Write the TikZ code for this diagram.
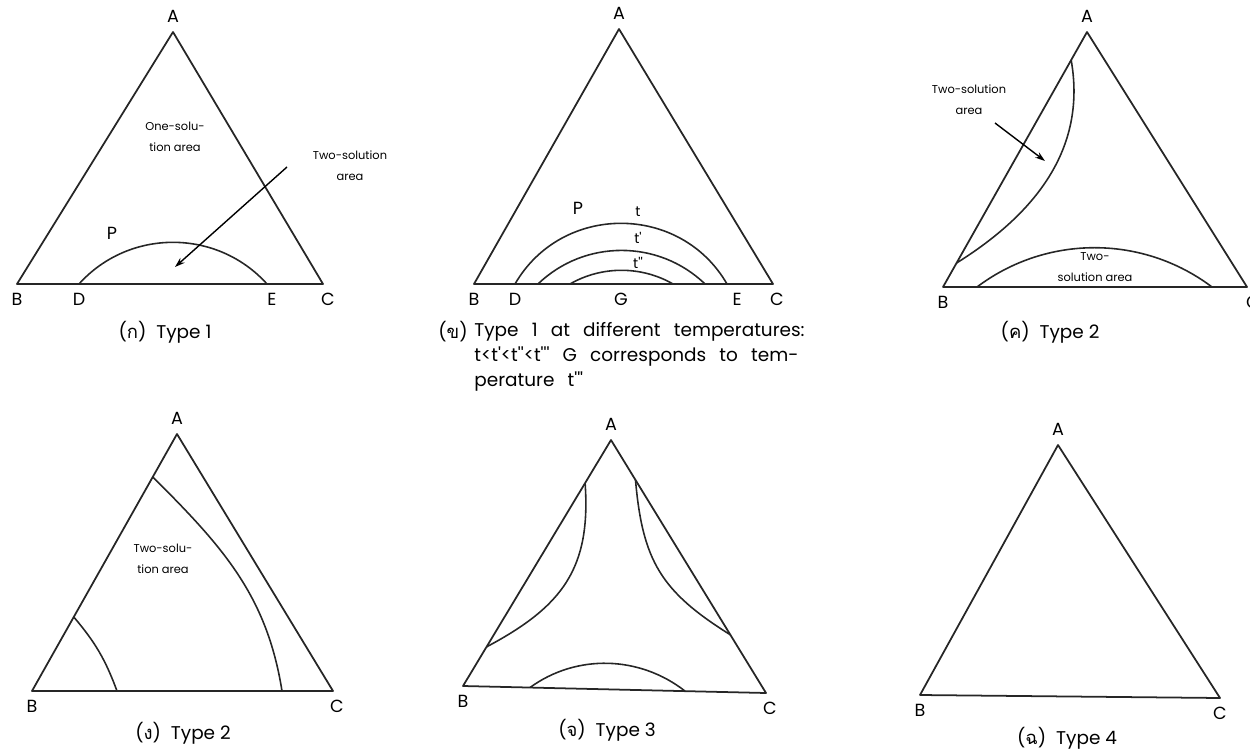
\documentclass[tikz,border=0pt]{standalone}
\usepackage{fontspec}
\setmainfont{Poppins}
\newfontfamily\thaifont[Script=Thai]{Loma}
\usepackage{tikz}
\usetikzlibrary{arrows.meta,positioning,calc}
\newcommand\capwide{\spaceskip=7.5pt plus 1pt\relax}
\newcommand\tp{\textquotesingle}
\tikzset{
  tri/.style={draw=black!85, line width=1pt, line join=round},
  phase/.style={draw=black!85, line width=0.9pt},
  vlabel/.style={inner sep=0pt, font=\fontsize{10}{12}\selectfont},
  templabel/.style={inner sep=0pt, font=\fontsize{8}{10}\selectfont},
  arealabel/.style={inner sep=0pt, align=center, font=\fontsize{6.5}{12}\selectfont},
  caption/.style={inner sep=0pt, align=left, font=\fontsize{10.5}{14.2}\selectfont},
  widecaption/.style={caption, font=\fontsize{10.5}{14.2}\selectfont\capwide},
  pointer/.style={-{Stealth[length=2mm, width=1.3mm]}, line width=0.8pt}
}

\begin{document}
\begin{tikzpicture}[x=0.02cm, y=0.02cm, node distance=5pt]
\useasboundingbox (0,0) rectangle (1250,752);

% (a) Type 1
\coordinate (aA) at (173,720);
\coordinate (aB) at (17,468);
\coordinate (aC) at (323,468);
\coordinate (aD) at (79,468);
\coordinate (aE) at (267,468);
\draw[tri] (aA) -- (aB) -- (aC) -- cycle;
\draw[phase] (aD) to[out=48, in=132, looseness=1.02] (aE);
\node[vlabel, above=of aA] (aAlbl) {A};
\node[vlabel, below=of aB] (aBlbl) {B};
\node[vlabel, below=of aD] (aDlbl) {D};
\node[vlabel, below=of aE, xshift=0.1cm] (aElbl) {E};
\node[vlabel, below=of aC, xshift=0.1cm] (aClbl) {C};
\node[vlabel] (aP) at (112,519) {P};
\node[arealabel] (aOne) at (175,615) {One-solu-\\tion area};
\node[arealabel] (aTwo) at (350,586) {Two-solution\\area};
\coordinate (aTail) at (287,585);
\coordinate (aTip) at (175,485);
\draw[pointer] (aTail) -- (aTip);
\node[caption] (aCap) at (165,420) {({\thaifont ก})\ \ Type 1};

% (b) Type 1 at different temperatures
\coordinate (bA) at (619,723);
\coordinate (bB) at (474,468);
\coordinate (bC) at (773,468);
\coordinate (bD) at (515,468);
\coordinate (bE) at (727,468);
\coordinate (bG) at (621,468);
\draw[tri] (bA) -- (bB) -- (bC) -- cycle;
\draw[phase] (bD) to[out=60, in=120, looseness=1.13] (bE);
\draw[phase] (538,468) to[out=44, in=136, looseness=0.99] (705,468);
\draw[phase] (570,468) to[out=30, in=150, looseness=0.91] (673,468);
\node[vlabel, above=of bA] (bAlbl) {A};
\node[vlabel, below=of bB] (bBlbl) {B};
\node[vlabel, below=of bD] (bDlbl) {D};
\node[vlabel, below=of bG] (bGlbl) {G};
\node[vlabel, below=of bE, xshift=0.2cm] (bElbl) {E};
\node[vlabel, below=of bC, xshift=0.08cm] (bClbl) {C};
\node[vlabel] (bP) at (578,544) {P};
\node[templabel] (bT1) at (638,540) {t};
\node[templabel] (bT2) at (638,514) {t\tp};
\node[templabel] (bT3) at (638,489) {t\tp\tp};
\node[caption, anchor=east] (bCapNo) at (468,420) {({\thaifont ข})};
\node[widecaption, anchor=north west] (bCap) at (474,430)
  {Type 1 at different temperatures:\\
   t<t\tp<t\tp\tp<t\tp\tp\tp\ G corresponds to tem-\\
   perature t\tp\tp\tp};

% (c) Type 2
\coordinate (cA) at (1087,720);
\coordinate (cB) at (943,465);
\coordinate (cC) at (1247,465);
\coordinate (cP1) at ($(cA)!0.11!(cB)$);
\coordinate (cP2) at ($(cA)!0.906!(cB)$);
\draw[tri] (cA) -- (cB) -- (cC) -- cycle;
\draw[phase] (cP1) to[out=-80, in=32] (cP2);
\draw[phase] (977,465) to[out=37, in=143, looseness=0.95] (1212,465);
\node[vlabel, above=of cA] (cAlbl) {A};
\node[vlabel, below=of cB] (cBlbl) {B};
\node[vlabel, below=of cC, xshift=0.12cm] (cClbl) {C};
\node[arealabel] (cTwoUp) at (969,652) {Two-solution\\area};
\node[arealabel] (cTwoLow) at (1095,485) {Two-\\solution area};
\coordinate (cTail) at (995,629);
\coordinate (cTip) at (1045,591);
\draw[pointer] (cTail) -- (cTip);
\node[caption] (cCap) at (1050,420) {({\thaifont ค})\ \ Type 2};

% (d) Type 2
\coordinate (dA) at (177,318);
\coordinate (dB) at (32,61);
\coordinate (dC) at (333,61);
\coordinate (dQ1) at ($(dA)!0.167!(dB)$);
\coordinate (dQ2) at (282,61);
\coordinate (dR1) at ($(dA)!0.712!(dB)$);
\coordinate (dR2) at (117,61);
\draw[tri] (dA) -- (dB) -- (dC) -- cycle;
\draw[phase] (dQ1) to[out=-45, in=99] (dQ2);
\draw[phase] (dR1) to[bend left=10] (dR2);
\node[vlabel, above=of dA] (dAlbl) {A};
\node[vlabel, below=of dB] (dBlbl) {B};
\node[vlabel, below=of dC, xshift=0.08cm] (dClbl) {C};
\node[arealabel] (dTwo) at (163,193) {Two-solu-\\tion area};
\node[caption] (dCap) at (183,19) {({\thaifont ง})\ \ Type 2};

% (e) Type 3
\coordinate (eA) at (611,312);
\coordinate (eB) at (463,66);
\coordinate (eC) at (766,59);
\coordinate (eL1) at ($(eA)!0.175!(eB)$);
\coordinate (eL2) at ($(eA)!0.841!(eB)$);
\coordinate (eR1) at ($(eA)!0.158!(eC)$);
\coordinate (eR2) at ($(eA)!0.77!(eC)$);
\coordinate (eS1) at ($(eB)!0.221!(eC)$);
\coordinate (eS2) at ($(eB)!0.733!(eC)$);
\draw[tri] (eA) -- (eB) -- (eC) -- cycle;
\draw[phase] (eL1) to[out=-86, in=28, looseness=1.15] (eL2);
\draw[phase] (eR1) to[out=-85, in=148, looseness=1.15] (eR2);
\draw[phase] (eS1) to[out=36, in=142, looseness=0.95] (eS2);
\node[vlabel, above=of eA] (eAlbl) {A};
\node[vlabel, below=of eB] (eBlbl) {B};
\node[vlabel, below=of eC, xshift=0.08cm] (eClbl) {C};
\node[caption] (eCap) at (607,22) {({\thaifont จ})\ \ Type 3};

% (f) Type 4
\coordinate (fA) at (1058,307);
\coordinate (fB) at (920,57);
\coordinate (fC) at (1220,54);
\draw[tri] (fA) -- (fB) -- (fC) -- cycle;
\node[vlabel, above=of fA] (fAlbl) {A};
\node[vlabel, below=of fB] (fBlbl) {B};
\node[vlabel, below=of fC] (fClbl) {C};
\node[caption] (fCap) at (1067,14) {({\thaifont ฉ})\ \ Type 4};
\end{tikzpicture}
\end{document}
